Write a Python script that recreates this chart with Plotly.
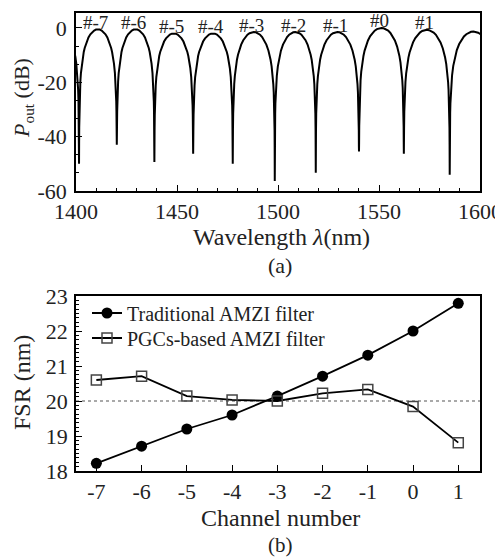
import plotly.graph_objects as go

# ---------------- data: panel (a) spectrum ----------------
# wavelengths (nm) of the transmission nulls
null_wl = [1383.5, 1401.5, 1420.2, 1438.8, 1458.0, 1477.6, 1498.4, 1518.7, 1540.1, 1562.3, 1585.0, 1608.5]
# depth (dB) of each null
null_db = [-50.0, -50.0, -43.0, -49.3, -46.3, -50.0, -56.3, -53.3, -45.5, -46.3, -54.0, -50.0]
# peak level (dB) of each lobe between consecutive nulls
peak_db = [-0.5, -0.5, -0.5, -2.0, -2.0, -1.5, -1.5, -1.5, 0.0, -0.7, -1.3]
# normalised lobe profile: fraction of the way from lobe peak to null, and drop below the peak (dB)
lobe_u = [0.0, 0.1, 0.2, 0.3, 0.4, 0.5, 0.6, 0.7, 0.75, 0.8, 0.85, 0.9, 0.93, 0.95, 0.97, 0.98, 0.99, 0.995]
lobe_drop = [0.0, -0.11, -0.44, -1.0, -1.84, -3.01, -4.62, -6.86, -8.34, -10.2, -12.64, -16.11,
             -19.19, -22.1, -26.5, -30.06, -36.1, -42.1]
# channel labels of lobes (index into lobes)
channel_labels = ["#-7", "#-6", "#-5", "#-4", "#-3", "#-2", "#-1", "#0", "#1"]
channel_lobe = [1, 2, 3, 4, 5, 6, 7, 8, 9]

# ---------------- data: panel (b) FSR ----------------
channels = [-7, -6, -5, -4, -3, -2, -1, 0, 1]
fsr_traditional = [18.22, 18.71, 19.2, 19.6, 20.14, 20.71, 21.31, 22.0, 22.79]
fsr_pgc = [20.6, 20.71, 20.14, 20.03, 20.0, 20.22, 20.33, 19.84, 18.81]
design_fsr = 20.0

wl_ticks = [1400, 1450, 1500, 1550, 1600]
db_ticks = [0, -20, -40, -60]
db_ticktext = ["0", "-20", "-40", "-60"]
ch_ticktext = ["-7", "-6", "-5", "-4", "-3", "-2", "-1", "0", "1"]
fsr_ticks = [18, 19, 20, 21, 22, 23]

# ---------------- build spectrum polyline ----------------
xs, ys = [], []
for i, pk in enumerate(peak_db):
    a, b = null_wl[i], null_wl[i + 1]
    c, h = (a + b) / 2, (b - a) / 2
    xs.append(a); ys.append(null_db[i])
    for u, d in zip(reversed(lobe_u), reversed(lobe_drop)):
        xs.append(c - u * h); ys.append(max(pk + d, null_db[i]))
    for u, d in zip(lobe_u[1:], lobe_drop[1:]):
        xs.append(c + u * h); ys.append(max(pk + d, null_db[i + 1]))
xs.append(null_wl[-1]); ys.append(null_db[-1])

FONT = "Liberation Serif"
TXT = "#222"
OFF = 8                      # page body margin
W, H = 503 - OFF, 558 - OFF  # figure size


def fx(px):  # screen x pixel -> paper
    return (px - OFF) / W


def fy(py):  # screen y pixel -> paper
    return 1 - (py - OFF) / H


L, R = 76, 480
TOP_A, BOT_A = 13, 191
TOP_B, BOT_B = 296, 471

fig = go.Figure()
fig.add_trace(go.Scatter(x=xs, y=ys, mode="lines", line=dict(color="black", width=2),
                         xaxis="x", yaxis="y", showlegend=False, hoverinfo="skip"))
fig.add_trace(go.Scatter(x=channels, y=fsr_traditional, mode="lines+markers", name="Traditional AMZI filter",
                         line=dict(color="black", width=1.8),
                         marker=dict(symbol="circle", size=11, color="black"),
                         xaxis="x2", yaxis="y2", legend="legend"))
fig.add_trace(go.Scatter(x=channels, y=fsr_pgc, mode="lines+markers", name="PGCs-based AMZI filter",
                         line=dict(color="black", width=1.8),
                         marker=dict(symbol="square-open", size=10, color="#444", line=dict(width=1.5)),
                         xaxis="x2", yaxis="y2", legend="legend2"))

fig.add_shape(type="line", xref="x2 domain", yref="y2", x0=0, x1=1, y0=design_fsr, y1=design_fsr,
              line=dict(color="#555", width=1.2, dash="dot"), layer="below")

axis_common = dict(showline=True, mirror=True, linecolor="black", linewidth=1.5, showgrid=False,
                   zeroline=False, ticks="inside", ticklen=6, tickwidth=1.2, tickcolor="black",
                   automargin=False, tickfont=dict(family=FONT, size=22, color=TXT))

legend_common = dict(xanchor="left", yanchor="middle", bgcolor="rgba(0,0,0,0)",
                     font=dict(family=FONT, size=20, color=TXT), itemwidth=30)

fig.update_layout(
    width=W, height=H, margin=dict(l=0, r=0, t=0, b=0, autoexpand=False),
    paper_bgcolor="white", plot_bgcolor="white",
    font=dict(family=FONT, color=TXT),
    xaxis=dict(domain=[fx(L), fx(R)], anchor="y", range=[1400, 1600], tickvals=wl_ticks,
               ticklabelstandoff=0,
               minor=dict(dtick=10, tick0=1400, ticklen=3, ticks="inside", tickcolor="black"),
               **axis_common),
    yaxis=dict(domain=[fy(BOT_A), fy(TOP_A)], anchor="x", range=[-60, 5.5],
               tickvals=db_ticks, ticktext=db_ticktext, ticklabelstandoff=3,
               minor=dict(dtick=20 / 3, tick0=0, ticklen=3, ticks="inside", tickcolor="black"),
               **axis_common),
    xaxis2=dict(domain=[fx(L), fx(R)], anchor="y2", range=[-7.45, 1.48], tickvals=channels,
                ticktext=ch_ticktext, ticklabelstandoff=0, **axis_common),
    yaxis2=dict(domain=[fy(BOT_B), fy(TOP_B)], anchor="x2", range=[18, 23], tickvals=fsr_ticks,
                ticklabelstandoff=2,
                minor=dict(dtick=0.125, tick0=18, ticklen=3, ticks="inside", tickcolor="black"),
                **axis_common),
    legend=dict(x=fx(87), y=fy(313), **legend_common),
    legend2=dict(x=fx(87), y=fy(338), **legend_common),
)

# channel labels above lobes
for lab, li in zip(channel_labels, channel_lobe):
    cx = (null_wl[li] + null_wl[li + 1]) / 2 - 1.0
    fig.add_annotation(x=cx, y=peak_db[li], xref="x", yref="y", text=lab, showarrow=False,
                       yanchor="middle", yshift=7, font=dict(family=FONT, size=19, color=TXT))


def ann(text, xp, yp, size=24, angle=0):
    fig.add_annotation(x=fx(xp), y=fy(yp), xref="paper", yref="paper", text=text, showarrow=False,
                       xanchor="center", yanchor="middle", textangle=angle,
                       font=dict(family=FONT, size=size, color=TXT))


ann("Wavelength <i>λ</i>(nm)", 281, 237)
ann("(a)", 280, 265, size=22)
ann("<i>P</i><sub>out</sub> (dB)", 23, 98, size=22, angle=-90)
ann("Channel number", 280, 518)
ann("(b)", 280, 545, size=21)
ann("FSR (nm)", 22, 383, angle=-90)

fig.write_html("out.html")
